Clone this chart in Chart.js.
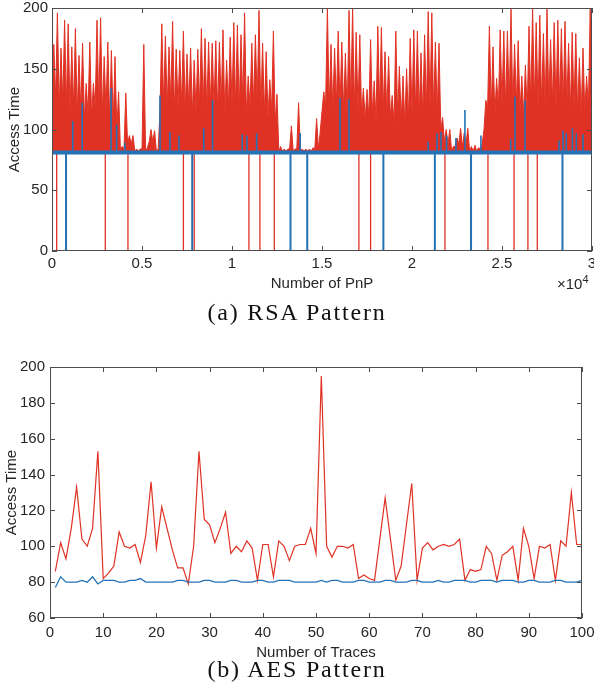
<!DOCTYPE html>
<html>
<head>
<meta charset="utf-8">
<script src="https://cdn.jsdelivr.net/npm/chart.js@4.4.1/dist/chart.umd.min.js"></script>
<style>
  body { margin: 0; background: #fff; width: 594px; height: 694px; position: relative; overflow: hidden; }
  canvas { position: absolute; left: 0; }
  .caption { position: absolute; left: 0; width: 594px; text-align: center; font-family: "Liberation Serif", serif; font-size: 24px; letter-spacing: 1.8px; color: #111; }
  .exp { position: absolute; font-family: "Liberation Sans", Arial, sans-serif; font-size: 15px; color: #262626; }
  .exp sup { font-size: 11px; }
</style>
</head>
<body>
<canvas id="rsa-chart" width="594" height="300" style="top:0"></canvas>
<div class="exp" style="left:557px; top:273px">&times;10<sup>4</sup></div>
<div class="caption" style="top:299px">(a) RSA Pattern</div>
<canvas id="aes-chart" width="594" height="322" style="top:340px"></canvas>
<div class="caption" style="top:656px">(b) AES Pattern</div>
<script>
// RSA: each block of 200 PnP measurements, read off the plot:
// highest red spike, and the level up to which the red is solid
const rsaBinSize = 200;
const rsaRedPeaks = [
  170, 196, 167, 190, 187, 168, 183, 161, 171, 138,
  172, 138, 190, 192, 160, 172, 165, 160, 131, 86,
  130, 95, 95, 84, 84, 170, 85, 100, 99, 84,
  187, 177, 168, 189, 166, 165, 181, 162, 167, 157,
  166, 183, 175, 172, 171, 173, 172, 182, 157, 176,
  188, 186, 178, 196, 144, 171, 178, 198, 171, 164,
  141, 181, 129, 86, 84, 84, 103, 84, 122, 84,
  84, 84, 85, 109, 98, 131, 200, 170, 167, 181,
  172, 163, 198, 200, 180, 178, 134, 133, 174, 140,
  185, 184, 164, 160, 128, 181, 152, 144, 150, 175,
  182, 181, 163, 178, 197, 196, 172, 171, 110, 100,
  100, 86, 93, 101, 97, 101, 86, 87, 85, 88,
  124, 185, 168, 142, 182, 181, 181, 199, 170, 173,
  144, 153, 185, 200, 188, 194, 179, 199, 174, 188,
  190, 183, 189, 171, 180, 179, 159, 167, 144, 199
];
const rsaRedFloor = [
  120, 125, 118, 122, 120, 115, 118, 112, 115, 108,
  112, 110, 118, 120, 112, 115, 108, 105, 100, 84,
  84, 88, 88, 82, 82, 84, 82, 90, 90, 82,
  115, 120, 118, 122, 115, 118, 120, 115, 118, 112,
  115, 120, 118, 115, 120, 118, 115, 120, 112, 118,
  120, 118, 115, 122, 112, 118, 120, 122, 115, 112,
  110, 115, 105, 82, 82, 82, 84, 82, 84, 82,
  82, 82, 82, 84, 84, 115, 120, 118, 115, 120,
  118, 115, 112, 120, 118, 115, 112, 108, 110, 112,
  108, 118, 115, 112, 110, 105, 112, 108, 105, 108,
  112, 115, 112, 110, 115, 118, 115, 112, 100, 90,
  88, 82, 86, 88, 86, 88, 82, 82, 82, 84,
  100, 118, 115, 112, 118, 120, 118, 122, 118, 120,
  115, 112, 115, 120, 122, 118, 120, 118, 122, 120,
  118, 122, 118, 120, 115, 118, 115, 112, 115, 118
];
const rsaRedBase = 80;
const rsaRedDips = [260, 2960, 4220, 7300, 7900, 10940, 11550, 12350, 17050, 17700, 21830, 24220, 25670, 26440, 26960];
const rsaBlueLevel = 81;
const rsaBlueDips = [780, 7790, 13250, 14180, 18410, 21270, 23280, 28360];
const rsaBlueSpikeX = [1150, 1680, 3280, 3590, 4050, 6000, 6550, 7050, 8430, 8920, 10570, 10830, 11370, 13790, 16000, 16500, 20900, 21390, 21610, 21920, 22440, 22940, 23830, 25480, 25720, 26280, 28170, 28390, 28570, 28910, 29130, 29500];
const rsaBlueSpikeY = [107, 122, 134, 104, 89, 128, 98, 95, 101, 124, 96, 95, 97, 97, 126, 125, 90, 97, 98, 95, 93, 116, 95, 92, 127, 124, 91, 99, 97, 101, 97, 96];
const rsaXTicks = [0, 0.5, 1, 1.5, 2, 2.5, 3];

// AES: access time per trace
const aesRed = [
  86, 102, 93, 110, 133, 104, 100, 110, 153, 82,
  85, 89, 108, 100, 99, 101, 91, 106, 136, 99,
  122, 110, 98, 88, 88, 79, 100, 153, 115, 112,
  102, 110, 119, 96, 100, 97, 103, 99, 81, 101,
  101, 83, 103, 100, 92, 100, 101, 101, 110, 96,
  195, 100, 94, 100, 100, 99, 101, 82, 84, 82,
  81, 104, 127, 104, 81, 89, 112, 135, 81, 99,
  102, 98, 100, 101, 100, 101, 104, 81, 87, 86,
  87, 100, 96, 81, 95, 97, 100, 81, 110, 100,
  82, 100, 99, 101, 81, 103, 100, 130, 101, 101
];
const aesBlue = [
  77, 83, 80, 80, 80, 81, 80, 83, 79, 81,
  81, 81, 80, 80, 81, 81, 82, 80, 80, 80,
  80, 80, 80, 81, 81, 80, 80, 80, 81, 81,
  80, 80, 80, 81, 81, 80, 80, 80, 81, 81,
  80, 80, 81, 81, 81, 80, 80, 80, 80, 80,
  81, 80, 81, 81, 80, 80, 80, 81, 81, 80,
  80, 80, 81, 81, 80, 80, 80, 81, 81, 80,
  80, 80, 81, 80, 80, 81, 81, 81, 80, 80,
  81, 81, 81, 80, 81, 81, 81, 80, 80, 81,
  81, 80, 80, 80, 81, 81, 80, 80, 80, 81
];

const red = "#e03224";
const blue = "#2472b6";
const axisColor = "#4d4d4d";
const textColor = "#262626";
const sans = "'Liberation Sans', Arial, sans-serif";

// box round the plot area with matlab style ticks pointing inwards
const boxTicks = {
  id: "boxTicks",
  afterDatasetsDraw(chart) {
    const { ctx, chartArea: a, scales } = chart;
    ctx.save();
    ctx.strokeStyle = axisColor;
    ctx.lineWidth = 1;
    ctx.strokeRect(Math.round(a.left) + 0.5, Math.round(a.top) + 0.5, Math.round(a.width) - 1, Math.round(a.height) - 1);
    ctx.beginPath();
    scales.x.ticks.forEach((t) => {
      const px = Math.round(scales.x.getPixelForValue(t.value)) + 0.5;
      ctx.moveTo(px, a.bottom); ctx.lineTo(px, a.bottom - 5);
      ctx.moveTo(px, a.top); ctx.lineTo(px, a.top + 5);
    });
    scales.y.ticks.forEach((t) => {
      const py = Math.round(scales.y.getPixelForValue(t.value)) + 0.5;
      ctx.moveTo(a.left, py); ctx.lineTo(a.left + 5, py);
      ctx.moveTo(a.right, py); ctx.lineTo(a.right - 5, py);
    });
    ctx.stroke();
    ctx.restore();
  },
};

// vertical segments from a level to each value, broken by gaps
function segments(xs, from, tos) {
  const pts = [];
  xs.forEach((x, i) => {
    pts.push({ x: x, y: from });
    pts.push({ x: x, y: Array.isArray(tos) ? tos[i] : tos });
    pts.push({ x: x, y: null });
  });
  return pts;
}

const rsaRed = [];
rsaRedPeaks.forEach((p, k) => {
  rsaRed.push({ x: k * rsaBinSize, y: rsaRedFloor[k] });
  rsaRed.push({ x: k * rsaBinSize + rsaBinSize / 2, y: p });
});
rsaRed.push({ x: rsaRedPeaks.length * rsaBinSize, y: rsaRedFloor[rsaRedFloor.length - 1] });

function axes(opts) {
  return {
    x: {
      type: "linear", min: opts.xMin, max: opts.xMax,
      grid: { display: false, drawTicks: false },
      border: { display: false },
      afterBuildTicks: (s) => { s.ticks = opts.xTicks.map((v) => ({ value: v })); },
      afterFit: (s) => { s.height = opts.xHeight; s.paddingLeft = 0; s.paddingRight = 0; },
      ticks: { padding: opts.xPad, color: textColor, font: { family: sans, size: 15 }, maxRotation: 0, autoSkip: false, callback: opts.xLabel },
      title: { display: true, text: opts.xTitle, color: textColor, font: { family: sans, size: 15 }, padding: { top: 0, bottom: opts.xTitlePad } },
    },
    y: {
      min: opts.yMin, max: opts.yMax,
      grid: { display: false, drawTicks: false },
      border: { display: false },
      afterFit: (s) => { s.width = opts.yWidth; s.paddingTop = 0; s.paddingBottom = 0; },
      ticks: { stepSize: opts.yStep, padding: opts.yPad, color: textColor, font: { family: sans, size: 15 } },
      title: { display: true, text: "Access Time", color: textColor, font: { family: sans, size: 15 }, padding: { top: opts.yTitlePad, bottom: 0 } },
    },
  };
}

new Chart(document.getElementById("rsa-chart"), {
  type: "line",
  data: {
    datasets: [
      { data: [{ x: 0, y: rsaBlueLevel }, { x: 30000, y: rsaBlueLevel }], borderColor: blue, borderWidth: 4, order: 0 },
      { data: segments(rsaBlueSpikeX, rsaBlueLevel, rsaBlueSpikeY), borderColor: blue, borderWidth: 1.6, order: 0 },
      { data: segments(rsaBlueDips, rsaBlueLevel, 0), borderColor: blue, borderWidth: 2, order: 0 },
      { data: segments(rsaRedDips, 80, 0), borderColor: red, borderWidth: 1.3, order: 1 },
      { data: rsaRed, borderColor: red, backgroundColor: red, borderWidth: 1, fill: { value: rsaRedBase }, order: 2 },
    ],
  },
  options: {
    responsive: false,
    animation: false,
    spanGaps: false,
    elements: { point: { radius: 0 }, line: { tension: 0 } },
    layout: { padding: { top: 8, right: 2, left: 0, bottom: 0 } },
    plugins: { legend: { display: false }, tooltip: { enabled: false } },
    scales: axes({
      xMin: 0, xMax: 30000, xTicks: rsaXTicks.map((v) => v * 10000), xLabel: (v) => String(v / 10000),
      xTitle: "Number of PnP", xHeight: 49, xPad: 4, xTitlePad: 7,
      yMin: 0, yMax: 200, yStep: 50, yWidth: 52, yPad: 4, yTitlePad: 6,
    }),
  },
  plugins: [boxTicks],
});

new Chart(document.getElementById("aes-chart"), {
  type: "line",
  data: {
    datasets: [
      { data: aesBlue.map((v, i) => ({ x: i + 1, y: v })), borderColor: blue, borderWidth: 1.3, order: 0 },
      { data: aesRed.map((v, i) => ({ x: i + 1, y: v })), borderColor: red, borderWidth: 1.2, order: 1 },
    ],
  },
  options: {
    responsive: false,
    animation: false,
    elements: { point: { radius: 0 }, line: { tension: 0 } },
    layout: { padding: { top: 27, right: 12, left: 0, bottom: 0 } },
    plugins: { legend: { display: false }, tooltip: { enabled: false } },
    scales: axes({
      xMin: 0, xMax: 100, xTicks: [0, 10, 20, 30, 40, 50, 60, 70, 80, 90, 100], xLabel: (v) => String(v),
      xTitle: "Number of Traces", xHeight: 44, xPad: 6, xTitlePad: 0,
      yMin: 60, yMax: 200, yStep: 20, yWidth: 50, yPad: 5, yTitlePad: 3,
    }),
  },
  plugins: [boxTicks],
});
</script>
</body>
</html>
